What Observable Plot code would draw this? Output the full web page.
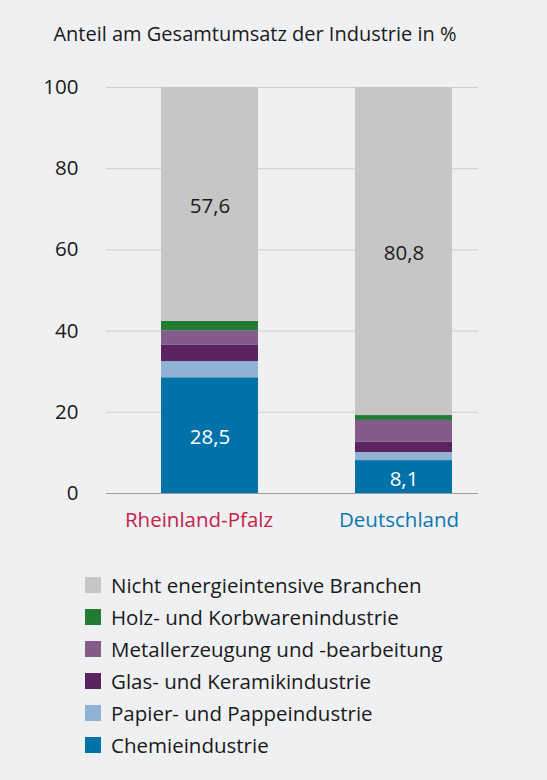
<!DOCTYPE html>
<html>
<head>
<meta charset="utf-8">
<script src="https://cdn.jsdelivr.net/npm/d3@7"></script>
<script src="https://cdn.jsdelivr.net/npm/@observablehq/plot@0.6"></script>
<style>
  html, body { margin: 0; padding: 0; }
  body { width: 547px; height: 780px; background: #eff0f2; font-family: "Open Sans", sans-serif; position: relative; overflow: hidden; }
  #title { position: absolute; top: 20px; left: 0; width: 510px; text-align: center; font-size: 20px; color: #1a1a1a; }
  #chart { position: absolute; top: 70px; left: 0; }
  #legend { position: absolute; top: 569px; left: 85px; }
  .row { display: flex; align-items: center; height: 32px; font-size: 20.5px; color: #1a1a1a; }
  .sw { width: 16px; height: 16px; margin-right: 10px; flex: none; }
</style>
</head>
<body>
<div id="title"></div>
<div id="chart"></div>
<div id="legend"></div>
<script>
const titleText = "Anteil am Gesamtumsatz der Industrie in %";
const regions = ["Rheinland-Pfalz", "Deutschland"];
const regionColors = ["#c4224a", "#0a78b0"];
// stacking order bottom to top
const series = [
  "Chemieindustrie",
  "Papier- und Pappeindustrie",
  "Glas- und Keramikindustrie",
  "Metallerzeugung und -bearbeitung",
  "Holz- und Korbwarenindustrie",
  "Nicht energieintensive Branchen"
];
const seriesColors = ["#0072a7", "#8fb2d5", "#5b2460", "#835c8a", "#237a33", "#c6c6c6"];
const valuesRP = [28.5, 4.0, 4.1, 3.5, 2.3, 57.6];
const valuesDE = [8.1, 2.0, 2.5, 5.4, 1.2, 80.8];
const labeledSeries = ["Chemieindustrie", "Nicht energieintensive Branchen"];
const labelColors = {"Chemieindustrie": "white", "Nicht energieintensive Branchen": "#1a1a1a"};
const yTicks = [0, 20, 40, 60, 80, 100];
const legendOrder = [...series].reverse();

document.getElementById("title").textContent = titleText;

const allValues = [valuesRP, valuesDE];
const data = [];
regions.forEach((r, i) => {
  series.forEach((s, j) => {
    data.push({region: r, series: s, value: allValues[i][j]});
  });
});
const fmt = v => v.toFixed(1).replace(".", ",");

const chart = Plot.plot({
  width: 547,
  height: 470,
  marginTop: 17,
  marginBottom: 47,
  marginLeft: 106,
  marginRight: 69,
  style: {background: "transparent", fontFamily: "'Open Sans', sans-serif", fontSize: "20.5px", color: "#1a1a1a"},
  x: {domain: regions, axis: null, paddingInner: 0.5, paddingOuter: 0.206, align: 0.673},
  y: {domain: [0, 100], axis: null},
  color: {domain: series, range: seriesColors},
  marks: [
    Plot.ruleY(yTicks.filter(t => t > 0), {stroke: "#cdcdcd", strokeWidth: 1}),
    Plot.barY(data, {x: "region", y: "value", fill: "series", order: null}),
    Plot.ruleY([0], {stroke: "#9c9c9c", strokeWidth: 1.2}),
    Plot.text(data, Plot.stackY({
      x: "region", y: "value", z: "series", order: null,
      text: d => labeledSeries.includes(d.series) ? fmt(d.value) : null,
      fill: d => labelColors[d.series] || "none",
      fontSize: 20.5, dy: 2
    })),
    Plot.axisY({ticks: yTicks, label: null, tickSize: 0, tickPadding: 28, fontSize: 20.5, tickFormat: d => String(d), fill: "#1a1a1a"}),
    Plot.text([regions[0]], {x: d => d, frameAnchor: "bottom", dy: 33, dx: -11, fill: regionColors[0], fontSize: 20.5}),
    Plot.text([regions[1]], {x: d => d, frameAnchor: "bottom", dy: 33, dx: -5, fill: regionColors[1], fontSize: 20.5})
  ]
});
document.getElementById("chart").appendChild(chart);

const legend = document.getElementById("legend");
legendOrder.forEach(s => {
  const row = document.createElement("div");
  row.className = "row";
  const sw = document.createElement("div");
  sw.className = "sw";
  sw.style.background = seriesColors[series.indexOf(s)];
  const t = document.createElement("span");
  t.textContent = s;
  row.appendChild(sw);
  row.appendChild(t);
  legend.appendChild(row);
});
</script>
</body>
</html>
